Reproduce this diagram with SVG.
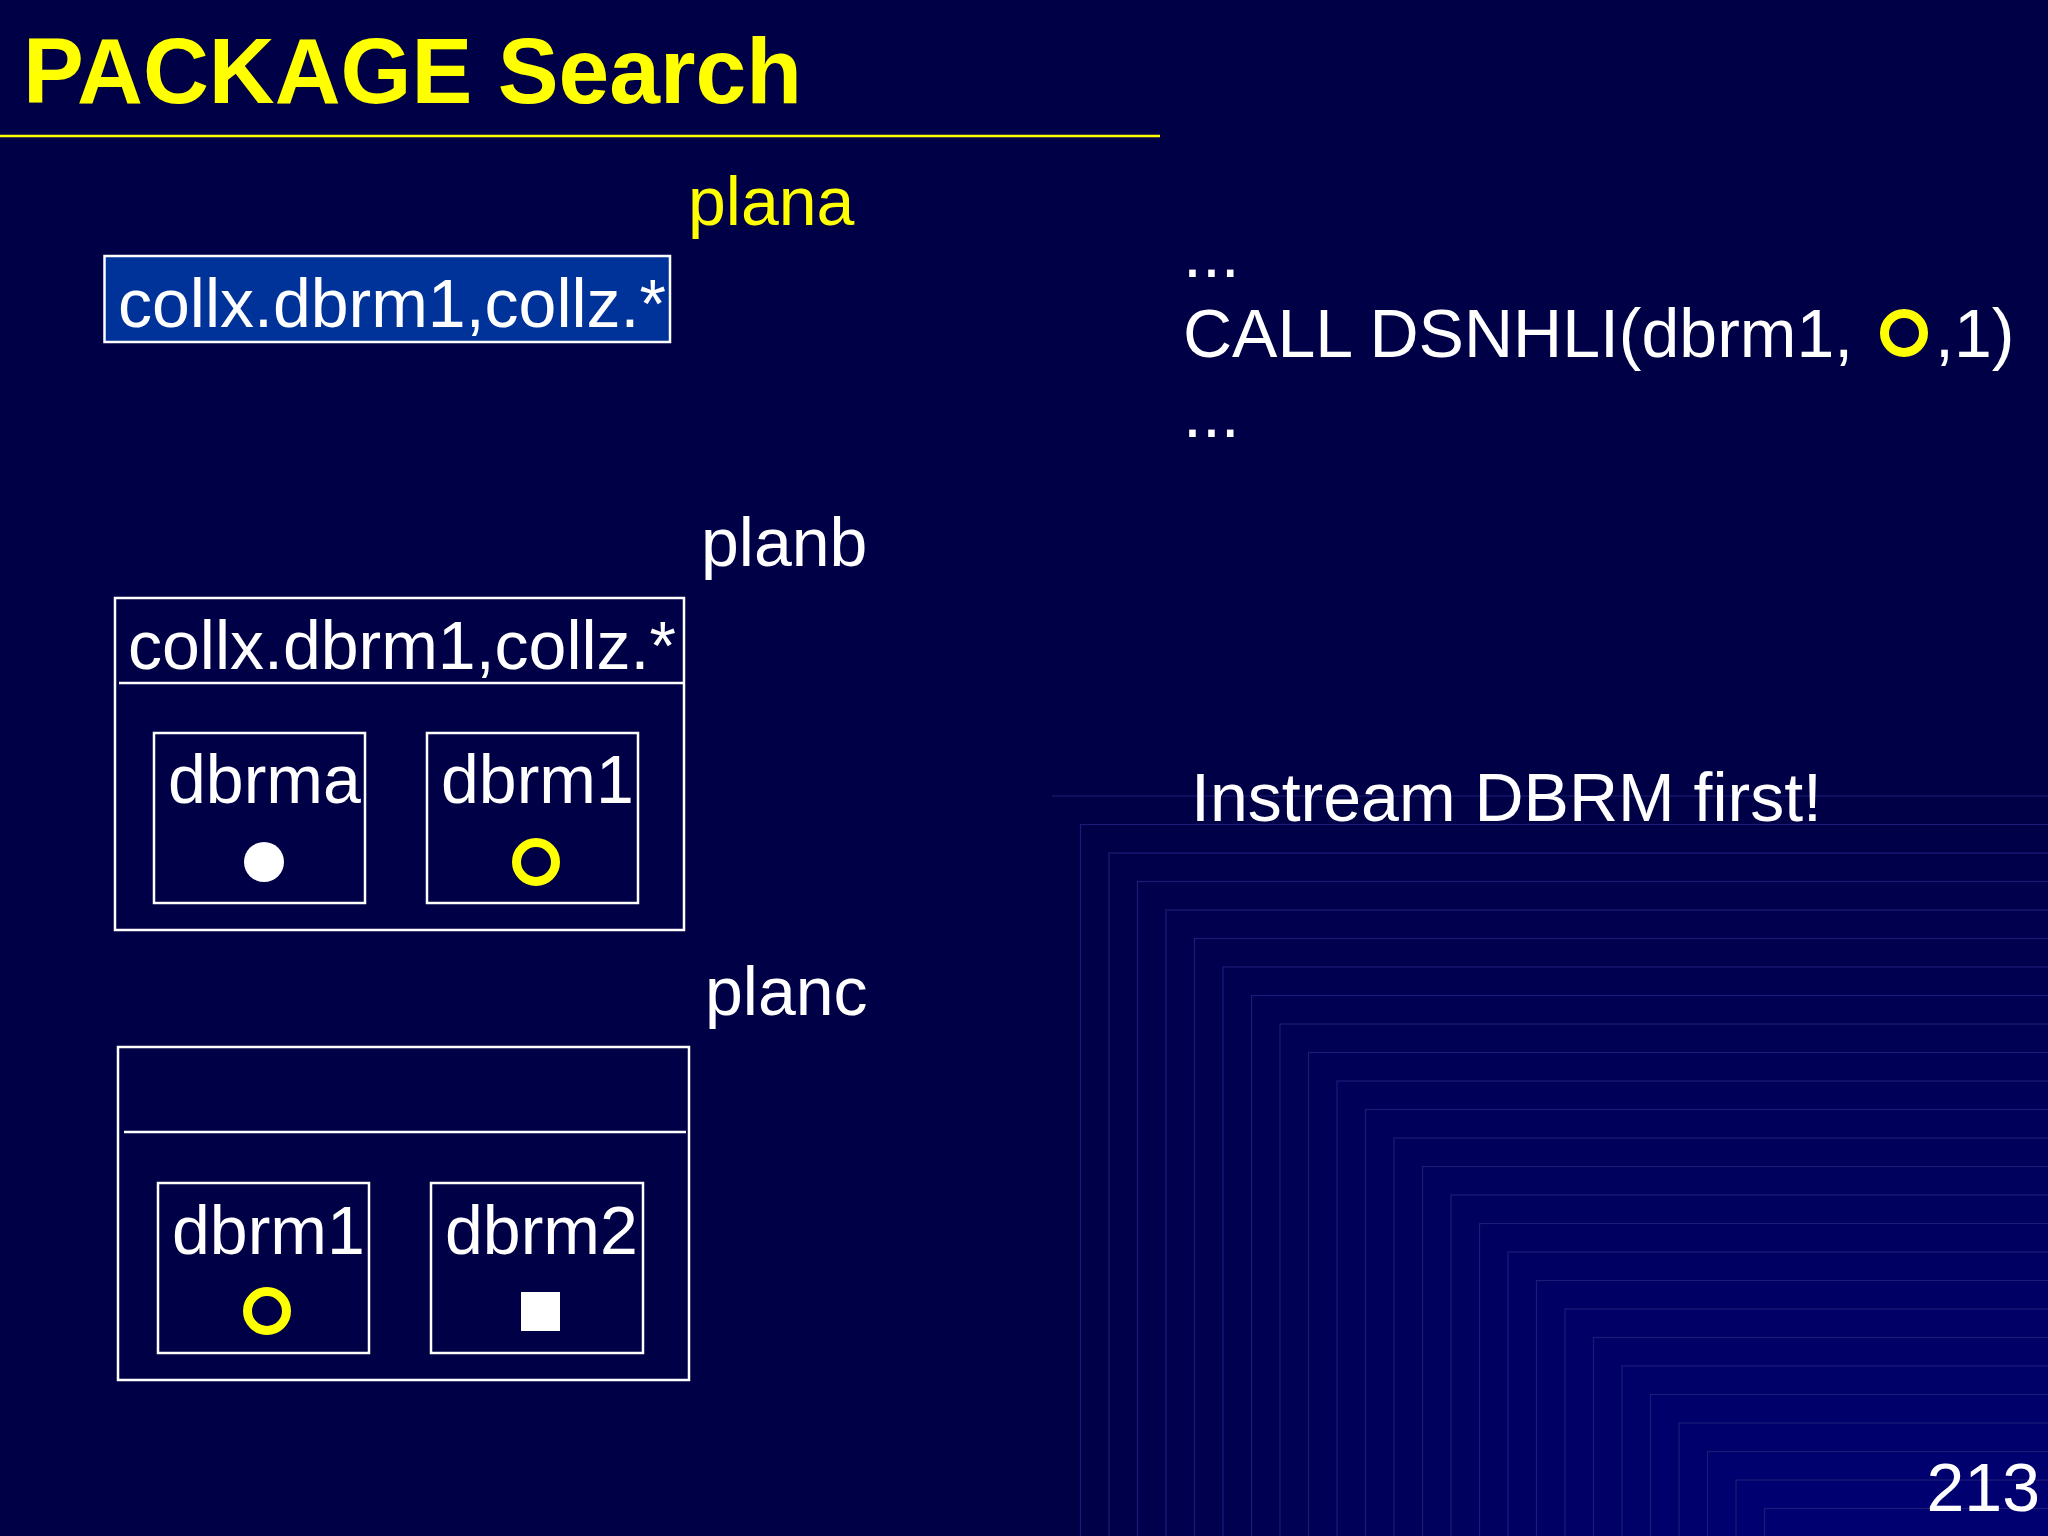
<svg xmlns="http://www.w3.org/2000/svg" width="2048" height="1536" viewBox="0 0 2048 1536">
<style>
.t{font-family:"Liberation Sans",Arial,sans-serif;font-size:68px;fill:#ffffff}
.y{fill:#ffff00}
.box{fill:none;stroke:#ffffff;stroke-width:2.5}
.div{stroke:#ffffff;stroke-width:2.5}
.ring{fill:none;stroke:#ffff00;stroke-width:9}
.step{stroke:#1c1c78;stroke-width:1.2}
</style>
<rect x="0" y="0" width="2048" height="1536" fill="#000046"/>
<g id="background-steps">
<line x1="1052" y1="796" x2="2048" y2="796" class="step"/>
<rect class="step" x="1080.5" y="824.5" width="980" height="720" fill="#000048"/>
<rect class="step" x="1109" y="853" width="980" height="720" fill="#00004a"/>
<rect class="step" x="1137.5" y="881.5" width="980" height="720" fill="#00004c"/>
<rect class="step" x="1166" y="910" width="980" height="720" fill="#00004e"/>
<rect class="step" x="1194.5" y="938.5" width="980" height="720" fill="#00004f"/>
<rect class="step" x="1223" y="967" width="980" height="720" fill="#000051"/>
<rect class="step" x="1251.5" y="995.5" width="980" height="720" fill="#000053"/>
<rect class="step" x="1280" y="1024" width="980" height="720" fill="#000054"/>
<rect class="step" x="1308.5" y="1052.5" width="980" height="720" fill="#000056"/>
<rect class="step" x="1337" y="1081" width="980" height="720" fill="#000058"/>
<rect class="step" x="1365.5" y="1109.5" width="980" height="720" fill="#00005a"/>
<rect class="step" x="1394" y="1138" width="980" height="720" fill="#00005b"/>
<rect class="step" x="1422.5" y="1166.5" width="980" height="720" fill="#00005d"/>
<rect class="step" x="1451" y="1195" width="980" height="720" fill="#00005f"/>
<rect class="step" x="1479.5" y="1223.5" width="980" height="720" fill="#000060"/>
<rect class="step" x="1508" y="1252" width="980" height="720" fill="#000062"/>
<rect class="step" x="1536.5" y="1280.5" width="980" height="720" fill="#000064"/>
<rect class="step" x="1565" y="1309" width="980" height="720" fill="#000066"/>
<rect class="step" x="1593.5" y="1337.5" width="980" height="720" fill="#000067"/>
<rect class="step" x="1622" y="1366" width="980" height="720" fill="#000069"/>
<rect class="step" x="1650.5" y="1394.5" width="980" height="720" fill="#00006b"/>
<rect class="step" x="1679" y="1423" width="980" height="720" fill="#00006c"/>
<rect class="step" x="1707.5" y="1451.5" width="980" height="720" fill="#00006e"/>
<rect class="step" x="1736" y="1480" width="980" height="720" fill="#000070"/>
<rect class="step" x="1764.5" y="1508.5" width="980" height="720" fill="#000071"/>
</g>
<g id="title">
<text x="23" y="103" font-family="'Liberation Sans',Arial,sans-serif" font-weight="bold" font-size="92" fill="#ffff00" textLength="779" lengthAdjust="spacingAndGlyphs">PACKAGE Search</text>
<line x1="0" y1="136" x2="1160" y2="136" stroke="#ffff00" stroke-width="2.5"/>
</g>
<g id="plana">
<text class="t y" x="688" y="225">plana</text>
<rect x="104.5" y="256" width="565.5" height="86" fill="#003399" stroke="#ffffff" stroke-width="2.5"/>
<text class="t" x="118" y="327">collx.dbrm1,collz.*</text>
</g>
<g id="planb">
<text class="t" x="701" y="566">planb</text>
<rect class="box" x="115" y="598" width="569" height="332"/>
<line class="div" x1="119" y1="683" x2="683" y2="683"/>
<text class="t" x="128" y="669">collx.dbrm1,collz.*</text>
<g id="planb-dbrma">
<rect class="box" x="154" y="733" width="211" height="170"/>
<text class="t" x="168" y="803">dbrma</text>
<circle cx="264" cy="862" r="20" fill="#ffffff"/>
</g>
<g id="planb-dbrm1">
<rect class="box" x="427" y="733" width="211" height="170"/>
<text class="t" x="441" y="803">dbrm1</text>
<circle class="ring" cx="536" cy="862" r="19.5"/>
</g>
</g>
<g id="planc">
<text class="t" x="705" y="1015">planc</text>
<rect class="box" x="118" y="1047" width="571" height="333"/>
<line class="div" x1="124" y1="1132" x2="686" y2="1132"/>
<g id="planc-dbrm1">
<rect class="box" x="158" y="1183" width="211" height="170"/>
<text class="t" x="172" y="1254">dbrm1</text>
<circle class="ring" cx="267" cy="1311" r="19.5"/>
</g>
<g id="planc-dbrm2">
<rect class="box" x="431" y="1183" width="212" height="170"/>
<text class="t" x="445" y="1254">dbrm2</text>
<rect x="521" y="1292" width="39" height="39" fill="#ffffff"/>
</g>
</g>
<g id="code">
<text class="t" x="1183" y="277">...</text>
<text class="t" x="1183" y="357">CALL DSNHLI(dbrm1, </text>
<circle class="ring" cx="1904" cy="333" r="19.5"/>
<text class="t" x="1935" y="357">,1)</text>
<text class="t" x="1183" y="437">...</text>
</g>
<g id="note">
<text class="t" x="1191" y="821">Instream DBRM first!</text>
</g>
<g id="page-number">
<text class="t" x="2040" y="1511" text-anchor="end">213</text>
</g>
</svg>
